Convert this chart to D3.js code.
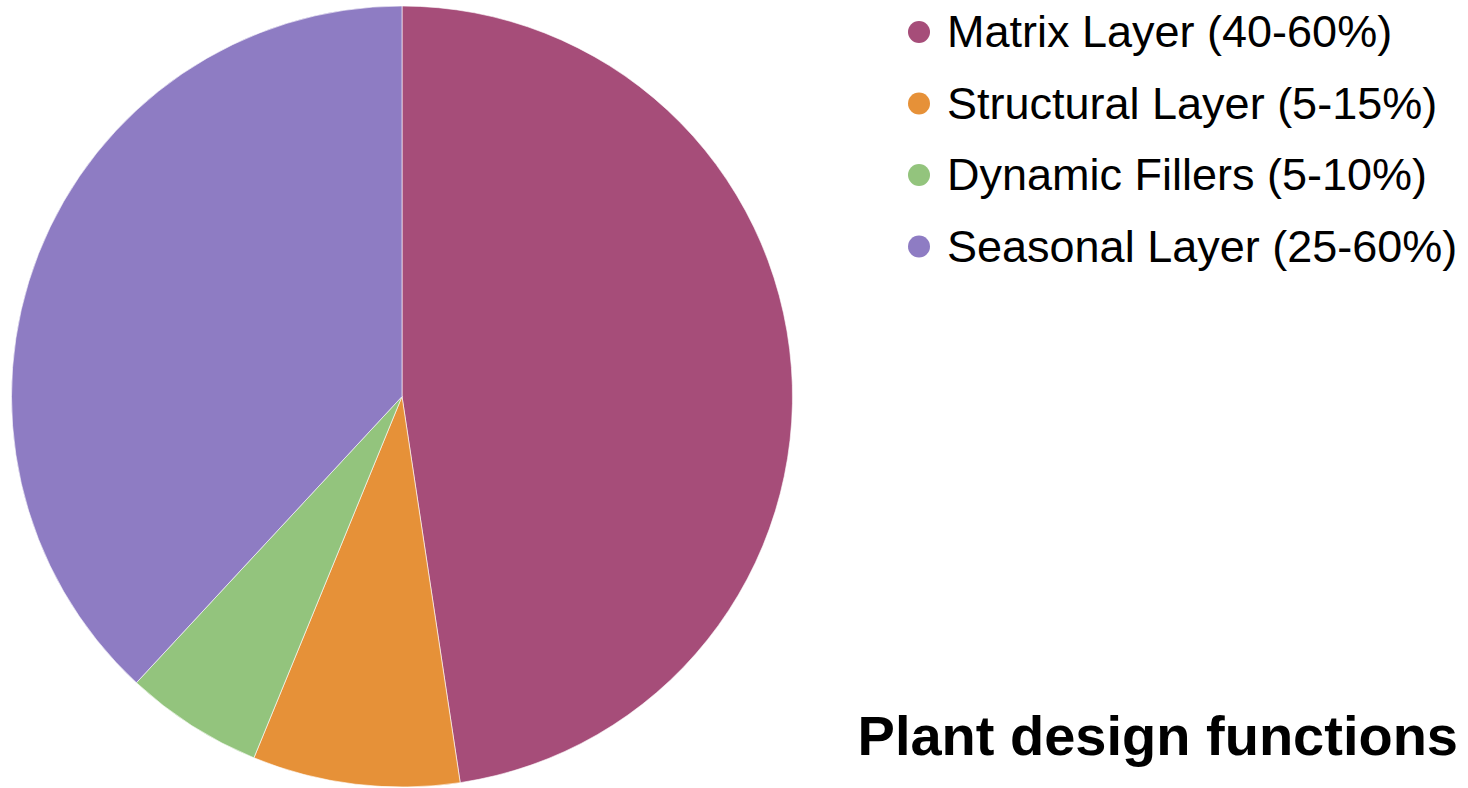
<!DOCTYPE html>
<html>
<head>
<meta charset="utf-8">
<script src="https://cdn.jsdelivr.net/npm/d3@7"></script>
<style>
	body { margin: 0; background: #fff; }
	svg { display: block; font-family: "Liberation Sans", Arial, sans-serif; }
</style>
</head>
<body>
<svg id="plantChart" width="1468" height="788"></svg>
<script>
// plant design functions pie
var categories = ["Matrix Layer (40-60%)", "Structural Layer (5-15%)", "Dynamic Fillers (5-10%)", "Seasonal Layer (25-60%)"];
var values = [50, 9, 6, 40];
var colors = ["#a64d79", "#e69138", "#93c47d", "#8e7cc3"];
var title = "Plant design functions";

var dataSet = categories.map(function(c, i){
	return {name: c, value: values[i]};
});

var svg = d3.select("#plantChart");

var radius = 390.5;
var pieG = svg.append("g")
			.attr("transform", "translate(402,396.5)");

var pie = d3.pie()
			.sort(null)
			.value(function(d){return d.value;});

var arc = d3.arc()
			.innerRadius(0)
			.outerRadius(radius);

var color = d3.scaleOrdinal()
			.domain(categories)
			.range(colors);

pieG.selectAll("path.slice")
	.data(pie(dataSet))
	.enter().append("path")
	.attr("class", "slice")
	.attr("d", arc)
	.attr("fill", function(d){return color(d.data.name);})
	.attr("stroke", "#fff")
	.attr("stroke-width", 0.6);

// legend
var legendY = d3.scalePoint()
			.domain(categories)
			.range([32, 246.5]);

var legend = svg.append("g")
			.selectAll("g.item")
			.data(dataSet)
			.enter().append("g")
			.attr("class", "item")
			.attr("transform", function(d){return "translate(919," + legendY(d.name) + ")";});

legend.append("circle")
	.attr("r", 11)
	.attr("fill", function(d){return color(d.name);});

legend.append("text")
	.attr("x", 28)
	.attr("y", 15)
	.attr("font-size", 45)
	.attr("fill", "#000")
	.text(function(d){return d.name;});

svg.append("text")
	.attr("x", 1458)
	.attr("y", 755)
	.attr("text-anchor", "end")
	.attr("font-size", 56)
	.attr("font-weight", "bold")
	.attr("fill", "#000")
	.text(title);
</script>
</body>
</html>
